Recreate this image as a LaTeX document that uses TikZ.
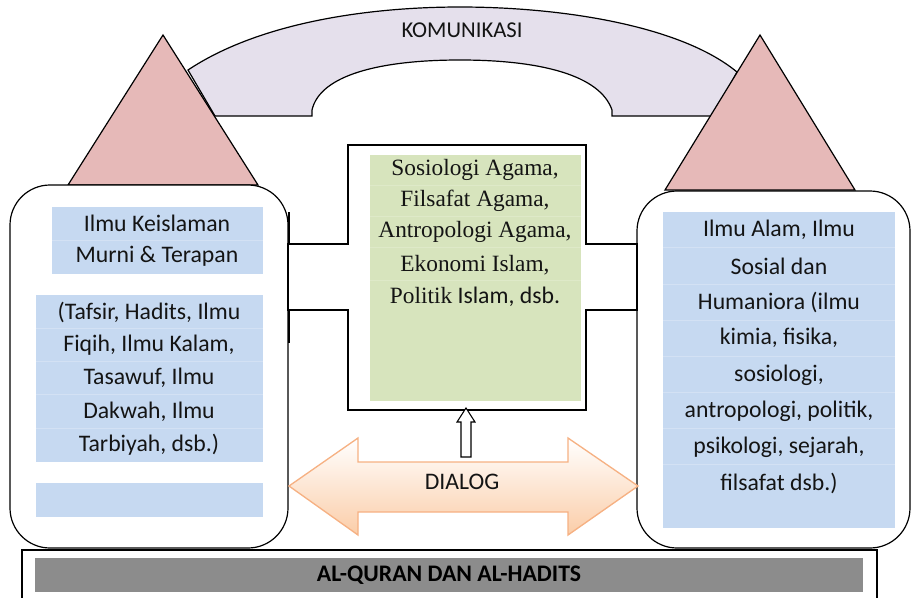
\documentclass[tikz,border=0pt]{standalone}
\usepackage{fontspec}
\setmainfont{Carlito}
\newfontfamily\serifface{Liberation Serif}
\newfontfamily\sansface{Carlito}
\usetikzlibrary{fit}
\definecolor{blueA}{HTML}{C6D9F1}
\definecolor{blueLine}{HTML}{D3E1F4}
\definecolor{greenA}{HTML}{D7E4BD}
\definecolor{greenLine}{HTML}{DEE9C8}
\definecolor{triA}{HTML}{E6B9B8}
\definecolor{archA}{HTML}{E5E0EC}
\definecolor{grayA}{HTML}{8C8C8C}
\definecolor{arrowEdge}{HTML}{F6B183}
\definecolor{arrowFill}{HTML}{FBCDA8}
\tikzset{
  every node/.style={inner sep=0pt, outer sep=0pt},
  outl/.style={draw=black, line width=0.9pt},
  roundbox/.style={outl, fill=white, rounded corners=30pt},
  bluebox/.style={fill=blueA},
  txt/.style={font=\fontsize{17.8}{25}\selectfont, align=center, text=black!92},
  sertxt/.style={font=\serifface\fontsize{17.5}{24}\selectfont, align=center, text=black!92},
  tri/.style={outl, fill=triA, line join=miter},
}
\begin{document}
\begin{tikzpicture}[x=0.75pt,y=-0.75pt]
\useasboundingbox (0,0) rectangle (911,597);
% communication arch
\path[outl, fill=archA] (188,70) .. controls (260,22) and (370,7) .. (460,7)
  .. controls (560,7) and (680,25) .. (737,72) -- (713,116) -- (612,116) -- (612,110)
  .. controls (600,75) and (540,60) .. (460,60)
  .. controls (380,60) and (320,75) .. (312,110) -- (312,116) -- (215,116) -- cycle;
\node[txt, font=\fontsize{17}{20}\selectfont] (kom) at (462,30) {KOMUNIKASI};
% triangles
\path[tri] (163,35) -- (258,185) -- (68,185) -- cycle;
\path[tri] (760,35) -- (855,190) -- (665,190) -- cycle;
% bottom frame
\draw[outl] (22,600) -- (22,550) -- (877,550) -- (877,600);
\node[fill=grayA, fit={(35,558) (863,592)}] (bar) {};
\node[txt, font=\bfseries\fontsize{17.8}{20}\selectfont, text=black] (quran) at (449,575) {AL-QURAN DAN AL-HADITS};
% rounded boxes
\node[roundbox, fit={(10,185) (288,548)}] (leftbox) {};
\node[roundbox, fit={(637,191) (910,548)}] (rightbox) {};
% central cross frame
\draw[outl, fill=white] (348,145) -- (586,145) -- (586,244) -- (rightbox.west |- 0,244)
  -- (rightbox.west |- 0,310) -- (586,310) -- (586,410) -- (348,410) -- (348,310)
  -- (leftbox.east |- 0,310) -- (leftbox.east |- 0,244) -- (348,244) -- cycle;
\draw[line width=1.6pt] (289,212) -- (289,244);
\draw[line width=1.6pt] (289,310) -- (289,343);
% green box
\node[fill=greenA, fit={(370,155) (581,401)}] (green) {};
\foreach \yy in {185,216,247,280} \draw[greenLine, line width=0.6pt] (370,\yy) -- (581,\yy);
\node[sertxt] (g1) at (475,170) {Sosiologi Agama,};
\node[sertxt] (g2) at (475,201) {Filsafat Agama,};
\node[sertxt] (g3) at (475,232) {Antropologi Agama,};
\node[sertxt] (g4) at (475,265) {Ekonomi Islam,};
\node[sertxt] (g5) at (475,297) {Politik{\sansface\fontsize{17.8}{20}\selectfont{} Islam, dsb.}};
% left blue boxes
\node[bluebox, fit={(52,207) (263,274)}] (lb1) {};
\draw[blueLine, line width=0.6pt] (52,240) -- (263,240);
\node[txt] (lt1) at (157,223) {Ilmu Keislaman};
\node[txt] (lt2) at (157,256) {Murni \& Terapan};
\node[bluebox, fit={(36,295) (263,462)}] (lb2) {};
\foreach \yy in {328,361,394,428} \draw[blueLine, line width=0.6pt] (36,\yy) -- (263,\yy);
\node[txt] (lt3) at (149,312) {(Tafsir, Hadits, Ilmu};
\node[txt] (lt4) at (149,345) {Fiqih, Ilmu Kalam,};
\node[txt] (lt5) at (149,378) {Tasawuf, Ilmu};
\node[txt] (lt6) at (149,412) {Dakwah, Ilmu};
\node[txt] (lt7) at (149,445) {Tarbiyah, dsb.)};
\node[bluebox, fit={(36,483) (263,517)}] (lb3) {};
% right blue box
\node[bluebox, fit={(663,212) (895,528)}] (rb) {};
\foreach \yy in {247,284,320,356,392,428,464} \draw[blueLine, line width=0.6pt] (663,\yy) -- (895,\yy);
\node[txt] (rt1) at (779,230) {Ilmu Alam, Ilmu};
\node[txt] (rt2) at (779,266) {Sosial dan};
\node[txt] (rt3) at (779,302) {Humaniora (ilmu};
\node[txt] (rt4) at (779,338) {kimia, fisika,};
\node[txt] (rt5) at (779,375) {sosiologi,};
\node[txt] (rt6) at (779,411) {antropologi, politik,};
\node[txt] (rt7) at (779,447) {psikologi, sejarah,};
\node[txt] (rt8) at (779,483) {filsafat dsb.)};
% up arrow
\draw[line width=0.8pt, fill=white] (466,408) -- (475,422) -- (471,422) -- (471,457)
  -- (461,457) -- (461,422) -- (457,422) -- cycle;
% dialog arrow
\path[draw=arrowEdge, line width=1pt, top color=white, bottom color=arrowFill, line join=miter]
  (289,486) -- (358,438) -- (358,462) -- (568,462) -- (568,438) -- (638,486)
  -- (568,535) -- (568,512) -- (358,512) -- (358,535) -- cycle;
\node[txt] (dialog) at (462,482) {DIALOG};
\end{tikzpicture}
\end{document}
